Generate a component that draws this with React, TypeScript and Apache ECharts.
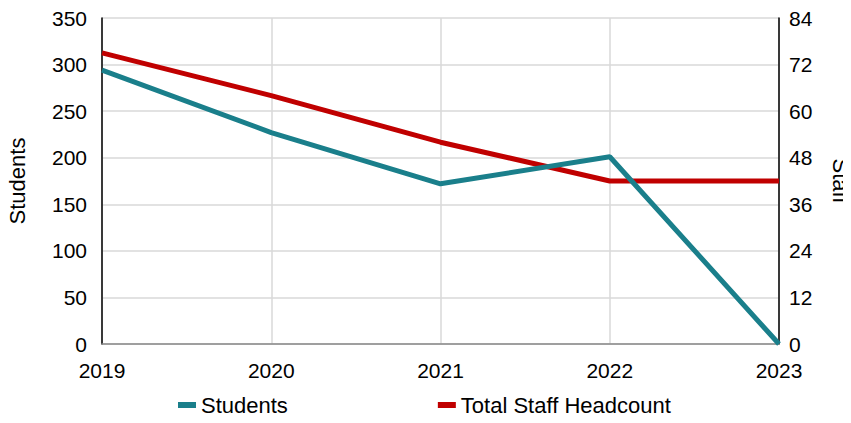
import React, { useEffect, useRef } from "react";
import * as echarts from "echarts";

const years = ["2019", "2020", "2021", "2022", "2023"];
const students = [294, 227, 172, 201, 0];
const staff = [75, 64, 52, 42, 42];

const FONT = "'Liberation Sans', Arial, sans-serif";
const TEAL = "#1A7F8B";
const RED = "#C00000";

export default function App() {
  const ref = useRef<HTMLDivElement>(null);

  useEffect(() => {
    if (!ref.current) return;
    const chart = echarts.init(ref.current, null, { renderer: "svg" });
    chart.setOption({
      animation: false,
      textStyle: { fontFamily: FONT, color: "#000" },
      grid: { left: 102, right: 72, top: 18, bottom: 79, outerBoundsMode: "none" },
      legend: {
        left: 173,
        bottom: 2,
        icon: "rect",
        itemWidth: 18,
        itemHeight: 6,
        itemGap: 150,
        textStyle: { fontFamily: FONT, fontSize: 22, color: "#000" },
        data: ["Students", "Total Staff Headcount"],
      },
      xAxis: {
        type: "category",
        data: years,
        boundaryGap: false,
        axisLine: { lineStyle: { color: "#898989", width: 1.5 } },
        axisTick: { show: false },
        axisLabel: { fontFamily: FONT, fontSize: 21, color: "#000", margin: 16 },
        splitLine: { show: true, lineStyle: { color: "#D9D9D9", width: 1.5 } },
      },
      yAxis: [
        {
          type: "value",
          min: 0,
          max: 350,
          interval: 50,
          name: "Students",
          nameLocation: "middle",
          nameGap: 74,
          nameTextStyle: { fontFamily: FONT, fontSize: 22, color: "#000" },
          axisLine: { show: true, lineStyle: { color: "#000", width: 1.5 } },
          axisTick: { show: false },
          axisLabel: { fontFamily: FONT, fontSize: 21, color: "#000", margin: 15 },
          splitLine: { show: true, lineStyle: { color: "#D9D9D9", width: 1.5 } },
        },
        {
          type: "value",
          min: 0,
          max: 84,
          interval: 12,
          name: "Staff",
          nameLocation: "middle",
          nameGap: 50,
          nameRotate: -90,
          nameTextStyle: { fontFamily: FONT, fontSize: 22, color: "#000" },
          axisLine: { show: true, lineStyle: { color: "#000", width: 1.5 } },
          axisTick: { show: false },
          axisLabel: { fontFamily: FONT, fontSize: 21, color: "#000", margin: 10 },
          splitLine: { show: false },
        },
      ],
      series: [
        {
          name: "Students",
          type: "line",
          data: students,
          yAxisIndex: 0,
          showSymbol: false,
          symbol: "none",
          lineStyle: { color: TEAL, width: 5 },
          itemStyle: { color: TEAL },
          z: 3,
        },
        {
          name: "Total Staff Headcount",
          type: "line",
          data: staff,
          yAxisIndex: 1,
          showSymbol: false,
          symbol: "none",
          lineStyle: { color: RED, width: 5 },
          itemStyle: { color: RED },
          z: 2,
        },
      ],
    });
    return () => chart.dispose();
  }, []);

  return <div ref={ref} style={{ width: 851, height: 423, margin: -8 }} />;
}
